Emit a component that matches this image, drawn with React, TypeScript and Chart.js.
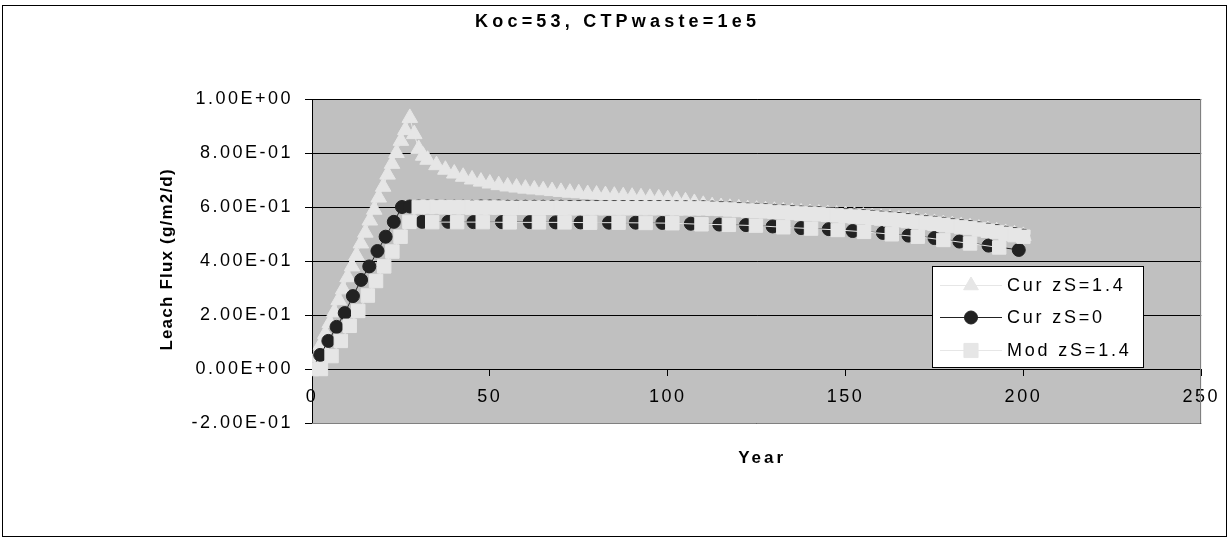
import React, { useEffect, useRef } from 'react';
import { Chart, registerables } from 'chart.js';

Chart.register(...registerables);

// ---------- text ----------
const CHART_TITLE = 'Koc=53, CTPwaste=1e5';
const X_TITLE = 'Year';
const Y_TITLE = 'Leach Flux (g/m2/d)';
const SERIES_NAMES = ['Cur zS=1.4', 'Cur zS=0', 'Mod zS=1.4'];
const Y_TICK_LABELS = ['-2.00E-01', '0.00E+00', '2.00E-01', '4.00E-01', '6.00E-01', '8.00E-01', '1.00E+00'];
const X_TICK_LABELS = ['0', '50', '100', '150', '200', '250'];

// ---------- Cur zS=1.4 (triangles) ----------
const cur14Years = [
  0, 1.25, 2.5, 3.75, 5, 6.25, 7.5, 8.75, 10, 11.25, 12.5, 13.75, 15, 16.25, 17.5, 18.75, 20, 21.25, 22.5, 23.75, 25, 26.25, 27.5,
  28.75, 30, 31.25, 32.5, 35, 37.5, 40, 42.5, 45, 47.5, 50, 52.5, 55, 57.5, 60, 62.5, 65, 67.5, 70, 72.5, 75, 77.5, 80,
  82.5, 85, 87.5, 90, 92.5, 95, 97.5, 100, 102.5, 105, 107.5, 110, 112.5, 115, 117.5, 120, 122.5, 125, 127.5, 130, 132.5,
  135, 137.5, 140, 142.5, 145, 147.5, 150, 152.5, 155, 157.5, 160, 162.5, 165, 167.5, 170, 172.5, 175, 177.5, 180, 182.5,
  185, 187.5, 190, 192.5, 195, 197.5, 200,
];
const cur14Values = [
  0, 0.045, 0.09, 0.13, 0.17, 0.21, 0.255, 0.295, 0.34, 0.38, 0.42, 0.465, 0.505, 0.55, 0.59, 0.635, 0.675, 0.72, 0.76, 0.8, 0.845, 0.885, 0.93,
  0.87, 0.815, 0.79, 0.775, 0.755, 0.738, 0.724, 0.712, 0.702, 0.694, 0.687, 0.681, 0.676, 0.672, 0.668, 0.665, 0.662, 0.659, 0.656, 0.653, 0.651, 0.648, 0.646,
  0.644, 0.642, 0.64, 0.638, 0.636, 0.634, 0.632, 0.629, 0.626, 0.621, 0.615, 0.608, 0.603, 0.6, 0.597, 0.595, 0.592, 0.59, 0.588, 0.586, 0.584,
  0.582, 0.58, 0.578, 0.576, 0.574, 0.572, 0.57, 0.568, 0.565, 0.563, 0.56, 0.557, 0.554, 0.551, 0.548, 0.544, 0.541, 0.537, 0.533, 0.529,
  0.525, 0.52, 0.515, 0.51, 0.504, 0.499, 0.493,
];

// ---------- Cur zS=0 (circles) ----------
const cur0Years = [
  0, 2.3, 4.6, 6.9, 9.2, 11.5, 13.8, 16.1, 18.4, 20.7, 23, 25.3,
  27.5, 30, 32.5, 35, 37.5, 40, 42.5, 45, 47.5, 50, 52.5, 55, 57.5, 60, 62.5, 65, 67.5, 70, 72.5, 75, 77.5, 80,
  82.5, 85, 87.5, 90, 92.5, 95, 97.5, 100, 102.5, 105, 107.5, 110, 112.5, 115, 117.5, 120, 122.5, 125, 127.5, 130, 132.5,
  135, 137.5, 140, 142.5, 145, 147.5, 150, 152.5, 155, 157.5, 160, 162.5, 165, 167.5, 170, 172.5, 175, 177.5, 180, 182.5,
  185, 187.5, 190, 192.5, 195, 197.5, 200,
];
const cur0Values = [
  0, 0.052, 0.104, 0.156, 0.207, 0.27, 0.33, 0.38, 0.437, 0.49, 0.545, 0.6,
  0.602, 0.602, 0.602, 0.602, 0.601, 0.601, 0.601, 0.601, 0.602, 0.602, 0.602, 0.601, 0.601, 0.601, 0.601, 0.601, 0.601, 0.601, 0.6, 0.6, 0.6, 0.6,
  0.6, 0.6, 0.6, 0.6, 0.6, 0.6, 0.6, 0.6, 0.599, 0.599, 0.599, 0.599, 0.598, 0.597, 0.595, 0.593, 0.591, 0.59, 0.588, 0.586, 0.584,
  0.582, 0.58, 0.579, 0.577, 0.575, 0.573, 0.571, 0.569, 0.566, 0.564, 0.561, 0.558, 0.555, 0.552, 0.549, 0.545, 0.542, 0.538, 0.534, 0.53,
  0.526, 0.521, 0.516, 0.511, 0.505, 0.5, 0.494,
];
const cur0LowYears = [31, 38.3, 45.4, 53.4, 61.2, 68.5, 75.5, 83.5, 91, 98.5, 106.5, 114.5, 122, 129.5, 137.5, 145.3, 152, 160.5, 167.7, 175, 182, 190.2, 198.7];
const cur0LowValues = [0.545, 0.545, 0.544, 0.544, 0.544, 0.543, 0.543, 0.542, 0.542, 0.541, 0.538, 0.535, 0.533, 0.528, 0.522, 0.518, 0.511, 0.504, 0.494, 0.485, 0.472, 0.457, 0.441];

// ---------- Mod zS=1.4 (squares) ----------
const modYears = [
  0, 2.5, 5.5, 8.1, 10.6, 13, 15.7, 18, 20.3, 22.6, 24.9, 27.4,
  30, 32.5, 35, 37.5, 40, 42.5, 45, 47.5, 50, 52.5, 55, 57.5, 60, 62.5, 65, 67.5, 70, 72.5, 75, 77.5, 80,
  82.5, 85, 87.5, 90, 92.5, 95, 97.5, 100, 102.5, 105, 107.5, 110, 112.5, 115, 117.5, 120, 122.5, 125, 127.5, 130, 132.5,
  135, 137.5, 140, 142.5, 145, 147.5, 150, 152.5, 155, 157.5, 160, 162.5, 165, 167.5, 170, 172.5, 175, 177.5, 180, 182.5,
  185, 187.5, 190, 192.5, 195, 197.5, 200,
];
const modValues = [
  0, 0, 0.048, 0.104, 0.16, 0.215, 0.272, 0.326, 0.38, 0.435, 0.49, 0.545,
  0.6, 0.6, 0.6, 0.599, 0.599, 0.599, 0.598, 0.598, 0.598, 0.598, 0.597, 0.597, 0.597, 0.597, 0.597, 0.597, 0.597, 0.596, 0.596, 0.596, 0.596,
  0.596, 0.596, 0.596, 0.596, 0.596, 0.596, 0.596, 0.596, 0.595, 0.595, 0.595, 0.595, 0.594, 0.593, 0.591, 0.589, 0.587, 0.586, 0.584, 0.582, 0.58,
  0.578, 0.576, 0.575, 0.573, 0.571, 0.569, 0.567, 0.565, 0.562, 0.56, 0.557, 0.554, 0.551, 0.548, 0.545, 0.541, 0.538, 0.534, 0.53, 0.526,
  0.522, 0.517, 0.512, 0.507, 0.501, 0.496, 0.49,
];
const modLowYears = [33.8, 40.8, 48, 55.6, 63.8, 71, 78.2, 86.2, 93.8, 101.3, 109.5, 117.2, 124.8, 132.5, 140.3, 147.8, 155.2, 163, 170.3, 177.5, 185, 193.2];
const modLowValues = [0.544, 0.544, 0.544, 0.543, 0.543, 0.543, 0.542, 0.542, 0.541, 0.54, 0.536, 0.534, 0.531, 0.525, 0.52, 0.515, 0.508, 0.499, 0.49, 0.478, 0.465, 0.45];

// ---------- styling ----------
const FONT = '"Liberation Sans", Arial, sans-serif';
const LIGHT = '#e6e6e6';
const DARK = '#222222';
const PLOT_BG = '#c0c0c0';

type Pt = { x: number; y: number | null };
const zip = (xs: number[], ys: number[]): Pt[] => xs.map((x, i) => ({ x, y: ys[i] }));
const withGap = (a: Pt[], b: Pt[]): Pt[] => [...a, { x: a[a.length - 1].x, y: null }, ...b];

const LEGEND_ROWS = [285, 317, 350];

function drawMarker(ctx: CanvasRenderingContext2D, style: string, x: number, y: number, r: number, color: string) {
  ctx.save();
  ctx.fillStyle = color;
  ctx.strokeStyle = color;
  ctx.beginPath();
  if (style === 'triangle') {
    ctx.moveTo(x, y - r);
    ctx.lineTo(x + r * 0.866, y + r * 0.5);
    ctx.lineTo(x - r * 0.866, y + r * 0.5);
    ctx.closePath();
  } else if (style === 'circle') {
    ctx.arc(x, y, r, 0, Math.PI * 2);
  } else {
    const s = r * Math.SQRT1_2;
    ctx.rect(x - s, y - s, 2 * s, 2 * s);
  }
  ctx.fill();
  ctx.stroke();
  ctx.restore();
}

function drawText(
  ctx: CanvasRenderingContext2D,
  text: string,
  x: number,
  y: number,
  font: string,
  spacing: number,
  align: CanvasTextAlign,
  rotate = 0,
) {
  ctx.save();
  ctx.translate(x, y);
  if (rotate) ctx.rotate(rotate);
  ctx.font = font;
  (ctx as any).letterSpacing = `${spacing}px`;
  ctx.fillStyle = '#000';
  ctx.textAlign = align;
  ctx.textBaseline = 'middle';
  ctx.fillText(text, align === 'center' ? spacing / 2 : 0, 0);
  ctx.restore();
}

const TICK_SPACING = '2.5px';

const decorPlugin = {
  id: 'decor',
  beforeUpdate(chart: any) {
    chart.ctx.letterSpacing = TICK_SPACING;
  },
  beforeDraw(chart: any) {
    const { ctx, chartArea: a } = chart;
    ctx.letterSpacing = TICK_SPACING;
    ctx.save();
    ctx.fillStyle = '#ffffff';
    ctx.fillRect(0, 0, chart.width, chart.height);
    ctx.fillStyle = PLOT_BG;
    ctx.fillRect(a.left, a.top, a.right - a.left, a.bottom - a.top);
    ctx.restore();
  },
  beforeDatasetsDraw(chart: any) {
    const { ctx, chartArea: a } = chart;
    ctx.save();
    ctx.strokeStyle = '#808080';
    ctx.lineWidth = 1;
    ctx.beginPath();
    ctx.moveTo(Math.round(a.right) - 0.5, a.top);
    ctx.lineTo(Math.round(a.right) - 0.5, Math.round(a.bottom) + 0.5);
    ctx.lineTo(a.left, Math.round(a.bottom) + 0.5);
    ctx.stroke();
    ctx.restore();
  },
  afterDraw(chart: any) {
    const ctx: CanvasRenderingContext2D = chart.ctx;
    const a = chart.chartArea;
    ctx.save();
    // outer frame
    ctx.strokeStyle = '#000';
    ctx.lineWidth = 1;
    ctx.strokeRect(2.5, 5.5, 1224, 531);

    // titles
    drawText(ctx, CHART_TITLE, chart.width / 2, 22, `bold 18px ${FONT}`, 4.2, 'center');
    drawText(ctx, X_TITLE, (a.left + a.right) / 2 + 4, 458, `bold 17px ${FONT}`, 3, 'center');
    drawText(ctx, Y_TITLE, 167, 260, `bold 17px ${FONT}`, 1.2, 'center', -Math.PI / 2);

    // legend box
    ctx.fillStyle = '#fff';
    ctx.fillRect(932, 266, 211, 101);
    ctx.strokeRect(932.5, 266.5, 211, 101);
    const styles = ['triangle', 'circle', 'rect'];
    const radii = [8.5, 6.5, 10];
    const colors = [LIGHT, DARK, LIGHT];
    SERIES_NAMES.forEach((name, i) => {
      const y = LEGEND_ROWS[i];
      ctx.strokeStyle = colors[i];
      ctx.lineWidth = 1;
      ctx.beginPath();
      ctx.moveTo(940, y + 0.5);
      ctx.lineTo(1002, y + 0.5);
      ctx.stroke();
      drawMarker(ctx, styles[i], 971, y + 0.5, radii[i], colors[i]);
      drawText(ctx, name, 1007, y + 1, `18px ${FONT}`, 2.8, 'left');
    });
    ctx.restore();
  },
};

export default function App() {
  const ref = useRef<HTMLCanvasElement | null>(null);

  useEffect(() => {
    document.body.style.margin = '0';
    const canvas = ref.current;
    if (!canvas) return;

    const chart = new Chart(canvas, {
      type: 'scatter',
      data: {
        datasets: [
          {
            label: SERIES_NAMES[0],
            data: zip(cur14Years, cur14Values),
            xAxisID: 'x',
            yAxisID: 'y',
            showLine: true,
            borderColor: LIGHT,
            backgroundColor: LIGHT,
            borderWidth: 1,
            pointStyle: 'triangle',
            pointRadius: 9,
            pointBorderWidth: 1,
            pointBorderColor: LIGHT,
            pointBackgroundColor: LIGHT,
            order: 3,
          },
          {
            label: SERIES_NAMES[1],
            data: withGap(zip(cur0Years, cur0Values), zip(cur0LowYears, cur0LowValues)),
            xAxisID: 'x',
            yAxisID: 'y',
            showLine: true,
            borderColor: DARK,
            backgroundColor: DARK,
            borderWidth: 1,
            pointStyle: 'circle',
            pointRadius: 6.5,
            pointBorderWidth: 1,
            pointBorderColor: DARK,
            pointBackgroundColor: DARK,
            order: 2,
          },
          {
            label: SERIES_NAMES[2],
            data: withGap(zip(modYears, modValues), zip(modLowYears, modLowValues)),
            xAxisID: 'x',
            yAxisID: 'y',
            showLine: true,
            borderColor: LIGHT,
            backgroundColor: LIGHT,
            borderWidth: 1,
            pointStyle: 'rect',
            pointRadius: 9.5,
            pointBorderWidth: 1,
            pointBorderColor: LIGHT,
            pointBackgroundColor: LIGHT,
            order: 1,
          },
        ],
      },
      options: {
        animation: false,
        responsive: false,
        devicePixelRatio: 1,
        spanGaps: false,
        layout: { padding: { left: 0, right: 28, top: 99, bottom: 116 } },
        plugins: {
          legend: { display: false },
          tooltip: { enabled: false },
          title: { display: false },
        },
        scales: {
          x: {
            type: 'linear',
            axis: 'x',
            position: { y: 0 } as any,
            min: 0,
            max: 250,
            ticks: {
              stepSize: 50,
              color: '#000',
              font: { family: FONT, size: 18 },
              padding: 11,
              maxRotation: 0,
              callback: (_v: any, i: number) => X_TICK_LABELS[i],
            },
            grid: { drawOnChartArea: false, drawTicks: true, tickLength: 6, color: '#000' },
            border: { display: true, color: '#000', width: 1 },
          },
          y: {
            type: 'linear',
            position: 'left',
            min: -0.2,
            max: 1.0,
            ticks: {
              stepSize: 0.2,
              color: '#000',
              font: { family: FONT, size: 18 },
              padding: 12,
              callback: (_v: any, i: number) => Y_TICK_LABELS[i],
            },
            grid: { color: '#000', tickColor: '#000', tickLength: 7, lineWidth: 1 },
            border: { display: true, color: '#000', width: 1 },
            afterFit: (scale: any) => {
              scale.width = 312;
            },
          },
        },
      },
      plugins: [decorPlugin],
    } as any);

    return () => chart.destroy();
  }, []);

  return (
    <canvas
      ref={ref}
      width={1231}
      height={539}
      style={{ display: 'block', width: 1231, height: 539 }}
    />
  );
}
